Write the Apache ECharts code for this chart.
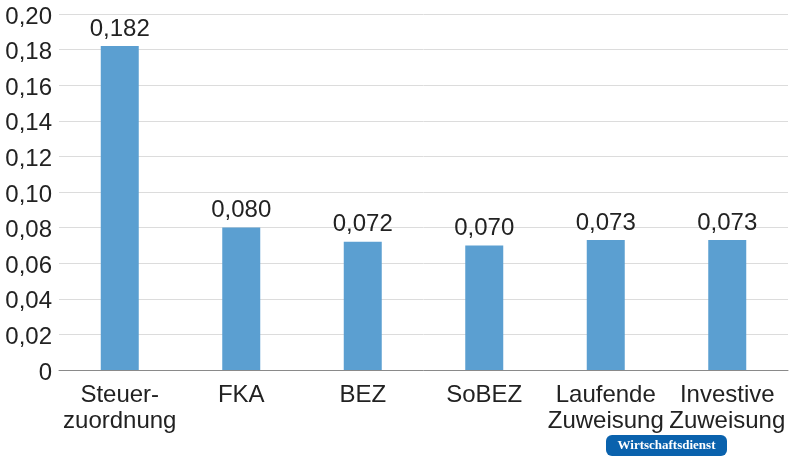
<!DOCTYPE html>
<html><head><meta charset="utf-8">
<script src="https://cdn.jsdelivr.net/npm/echarts@6/dist/echarts.min.js"></script>
<style>html,body{margin:0;padding:0;background:#fff}#c{width:800px;height:458px}</style>
</head><body><div id="c"></div>
<script>
var categories = ['Steuer-\nzuordnung', 'FKA', 'BEZ', 'SoBEZ', 'Laufende\nZuweisung', 'Investive\nZuweisung'];
var values = [0.182, 0.080, 0.072, 0.070, 0.073, 0.073];
var yTicks = {min: 0, max: 0.20, interval: 0.02};

var chart = echarts.init(document.getElementById('c'), null, {renderer: 'canvas'});
var font = 'Liberation Sans, Arial, Helvetica, sans-serif';
chart.setOption({
  animation: false,
  grid: {left: 59, right: 12, top: 14, bottom: 88},
  xAxis: {
    type: 'category', data: categories,
    axisLine: {lineStyle: {color: '#8a8a8a', width: 1}},
    axisTick: {show: false},
    axisLabel: {color: '#222', fontSize: 24, fontFamily: font, lineHeight: 26, margin: 12, interval: 0}
  },
  yAxis: {
    type: 'value', min: yTicks.min, max: yTicks.max, interval: yTicks.interval,
    axisLine: {show: false}, axisTick: {show: false},
    splitLine: {lineStyle: {color: '#dcdcdc', width: 1}},
    axisLabel: {color: '#222', fontSize: 24, fontFamily: font, margin: 7,
      formatter: function (v) { return '{a|' + (v === 0 ? '0' : v.toFixed(2).replace('.', ',')) + '}'; },
      rich: {a: {fontSize: 24, fontFamily: font, color: '#222', padding: [6, 0, 0, 0]}}}
  },
  series: [{
    type: 'bar', data: values, barWidth: 38,
    itemStyle: {color: '#5b9fd1'},
    label: {show: true, position: 'top', distance: 5, color: '#222', fontSize: 24, fontFamily: font,
      formatter: function (p) { return p.value.toFixed(3).replace('.', ','); }}
  }],
  graphic: [{
    type: 'group', left: 606, top: 435,
    children: [
      {type: 'rect', shape: {x: 0, y: 0, width: 121, height: 21, r: 6}, style: {fill: '#0a62ad'}},
      {type: 'text', x: 60.5, y: 10.5, style: {text: 'Wirtschaftsdienst', fill: '#fff', font: 'bold 13px "Liberation Serif", "DejaVu Serif", serif', align: 'center', verticalAlign: 'middle'}}
    ]
  }]
});
</script></body></html>
